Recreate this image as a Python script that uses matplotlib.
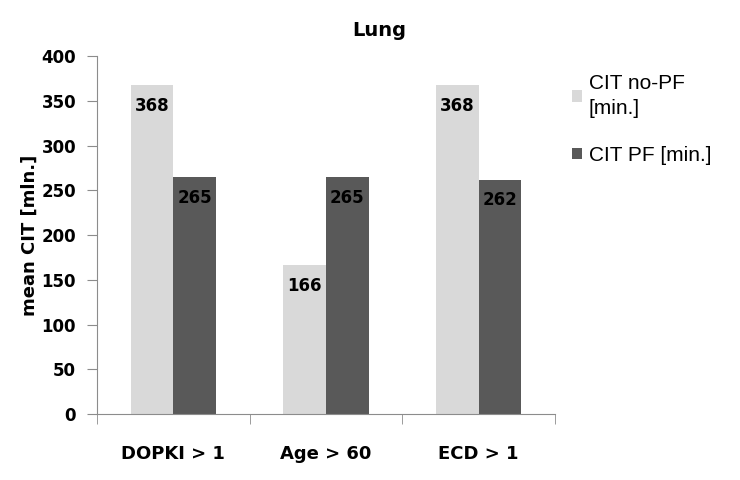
import numpy as np
import matplotlib
matplotlib.use('Agg')
import matplotlib.pyplot as plt

# data
categories = ['DOPKI > 1', 'Age > 60', 'ECD > 1']
cit_no_pf = [368, 166, 368]
cit_pf = [265, 265, 262]
series_names = ['CIT no-PF\n[min.]', 'CIT PF [min.]']

light = '#d9d9d9'
dark = '#595959'
axis_col = '#8c8c8c'

fig = plt.figure(figsize=(7.4, 4.8), dpi=100)
ax = fig.add_axes([0.131, 0.1375, 0.619, 0.7455])

x = np.arange(len(categories))
w = 0.28
b1 = ax.bar(x - w / 2, cit_no_pf, w, color=light, label=series_names[0])
b2 = ax.bar(x + w / 2, cit_pf, w, color=dark, label=series_names[1])

# value labels just under the top of each bar
for bars in (b1, b2):
    for r in bars:
        ax.annotate(str(int(r.get_height())),
                    (r.get_x() + r.get_width() / 2, r.get_height()),
                    xytext=(0, -15), textcoords='offset points',
                    ha='center', va='center', fontsize=12,
                    fontweight='heavy', color='black')

ax.set_xlim(-0.5, 2.5)
ax.set_ylim(0, 400)
ax.set_yticks(range(0, 401, 50))
ax.set_xticks(x)
ax.set_xticklabels(categories, fontsize=13, fontweight='heavy')
ax.set_xticks([-0.5, 0.5, 1.5, 2.5], minor=True)
ax.tick_params(axis='x', which='major', length=0, pad=22)
ax.tick_params(axis='x', which='minor', length=7, color=axis_col, direction='out')
ax.tick_params(axis='y', length=7, color=axis_col, pad=8, labelsize=12)
for lab in ax.get_yticklabels():
    lab.set_fontweight('heavy')

for s in ['top', 'right']:
    ax.spines[s].set_visible(False)
ax.spines['left'].set_color(axis_col)
ax.spines['bottom'].set_color(axis_col)

ax.set_ylabel('mean CIT [mln.]', fontsize=13, fontweight='heavy', labelpad=2)
fig.text(0.512, 0.9375, 'Lung', fontsize=14, fontweight='heavy',
         ha='center', va='center')

leg = fig.legend(loc='upper left', bbox_to_anchor=(0.748, 0.885), frameon=False,
                 prop={'family': 'Liberation Sans', 'size': 15},
                 handlelength=0.45, handleheight=0.45, handletextpad=0.35,
                 labelspacing=1.35)
for t in leg.get_texts():
    t.set_linespacing(1.4)

fig.savefig('out.png', dpi=100)
